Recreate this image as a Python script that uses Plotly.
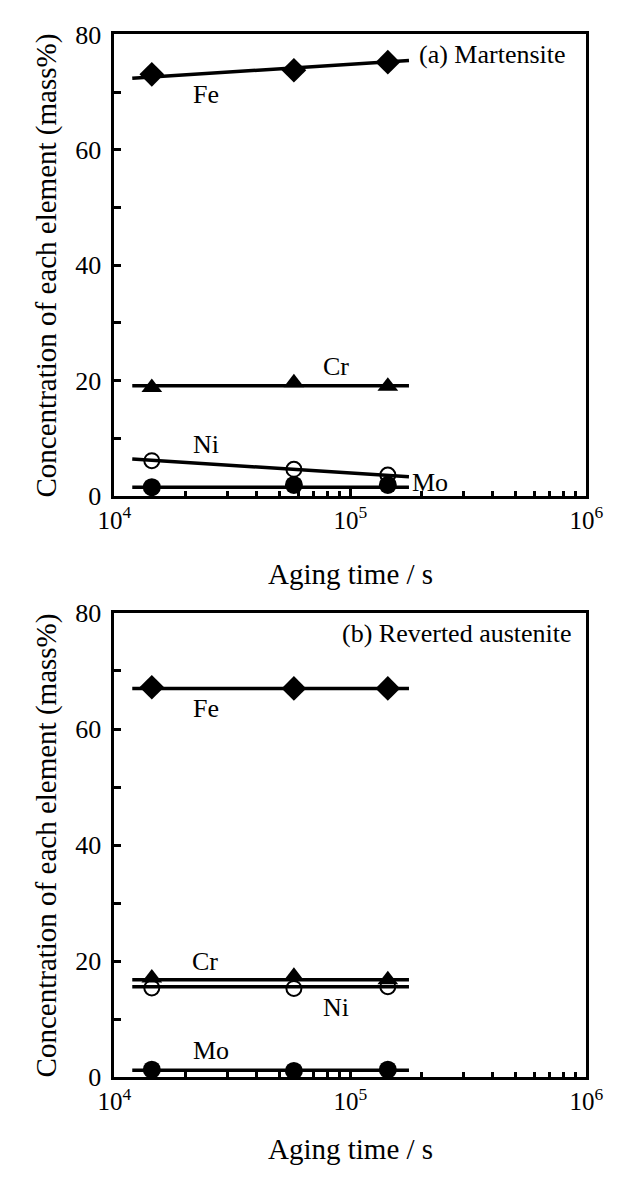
import plotly.graph_objects as go

# ---- data ----
aging_time = [14400, 57600, 144000]
line_x = [11900, 177000]

# (a) Martensite
a_fe = [73.1, 73.8, 75.2]
a_cr = [18.8, 19.6, 19.0]
a_ni = [6.1, 4.6, 3.6]
a_mo = [1.5, 1.9, 1.9]
a_fe_line = [72.4, 75.5]
a_cr_line = [19.1, 19.1]
a_ni_line = [6.4, 3.3]
a_mo_line = [1.5, 1.5]

# (b) Reverted austenite
b_fe = [67.2, 67.0, 67.0]
b_cr = [17.1, 17.4, 16.8]
b_ni = [15.4, 15.3, 15.6]
b_mo = [1.3, 1.1, 1.3]
b_fe_line = [67.0, 67.0]
b_cr_line = [16.8, 16.8]
b_ni_line = [15.6, 15.6]
b_mo_line = [1.2, 1.2]

x_tickvals = [1e4, 1e5, 1e6]
x_ticktext = ["10<sup>4</sup>", "10<sup>5</sup>", "10<sup>6</sup>"]
y_tickvals = [0, 20, 40, 60, 80]
y_ticktext = ["0", "20", "40", "60", "80"]

FONT = "Liberation Serif, Times New Roman, serif"
W, H = 629, 1182

fig = go.Figure()

def add_panel(xa, ya, lines, pts):
    for ly in lines:
        fig.add_trace(go.Scatter(x=line_x, y=ly, mode="lines",
                                 line=dict(color="black", width=3.5),
                                 xaxis=xa, yaxis=ya, showlegend=False))
    for vals, sym, size, lw in pts:
        fig.add_trace(go.Scatter(x=aging_time, y=vals, mode="markers",
                                 marker=dict(symbol=sym, size=size, color="black",
                                             line=dict(color="black", width=lw)),
                                 xaxis=xa, yaxis=ya, showlegend=False))

add_panel("x", "y",
          [a_fe_line, a_cr_line, a_ni_line, a_mo_line],
          [(a_fe, "diamond", 19, 0), (a_cr, "triangle-up", 18, 0),
           (a_ni, "circle-open", 15, 2), (a_mo, "circle", 18, 0)])
add_panel("x2", "y2",
          [b_fe_line, b_cr_line, b_ni_line, b_mo_line],
          [(b_fe, "diamond", 19, 0), (b_cr, "triangle-up", 18, 0),
           (b_ni, "circle-open", 15, 2), (b_mo, "circle", 18, 0)])

minor_vals = [k * 10 ** e for e in (4, 5) for k in range(2, 10)]

xdom = [103 / W, 602 / W]
ydom_a = [1 - 494 / H, 1 - 21 / H]
ydom_b = [1 - 1090 / H, 1 - 614 / H]

xtickf = dict(family=FONT, size=25, color="black")
ytickf = dict(family=FONT, size=26, color="black")
xcommon = dict(type="log", range=[4, 6], tickmode="array", tickvals=x_tickvals,
               ticktext=x_ticktext, ticks="inside", ticklen=7, tickwidth=2.5,
               tickcolor="black", showline=True, linecolor="black", linewidth=3,
               mirror=True, showgrid=False, zeroline=False, tickfont=xtickf,
               minor=dict(tickvals=minor_vals, ticks="inside", ticklen=5,
                          tickwidth=2.5, tickcolor="black", showgrid=False),
               domain=xdom)
ycommon = dict(range=[0, 80], tickmode="array", tickvals=y_tickvals,
               ticktext=y_ticktext, ticks="inside", ticklen=7, tickwidth=2.5,
               tickcolor="black", showline=True, linecolor="black", linewidth=3,
               mirror=True, showgrid=False, zeroline=False, tickfont=ytickf,
               ticklabelstandoff=5,
               minor=dict(tickvals=[10, 30, 50, 70], ticks="inside", ticklen=7,
                          tickwidth=2.5, tickcolor="black", showgrid=False))

fig.update_layout(
    width=W, height=H, margin=dict(l=0, r=0, t=0, b=0),
    plot_bgcolor="white", paper_bgcolor="white",
    xaxis=dict(xcommon, anchor="y"),
    yaxis=dict(ycommon, domain=ydom_a, anchor="x"),
    xaxis2=dict(xcommon, anchor="y2"),
    yaxis2=dict(ycommon, domain=ydom_b, anchor="x2"),
)

tf = dict(family=FONT, size=26, color="black")
C = dict(showarrow=False, xanchor="center", yanchor="middle")
ann = []
# panel a labels
ann += [
    dict(C, x=5.601, y=76.5, xref="x", yref="y", text="(a) Martensite", font=tf),
    dict(C, x=4.389, y=69.6, xref="x", yref="y", text="Fe", font=tf),
    dict(C, x=4.938, y=22.4, xref="x", yref="y", text="Cr", font=tf),
    dict(C, x=4.389, y=8.85, xref="x", yref="y", text="Ni", font=tf),
    dict(C, x=5.254, y=2.25, xref="x", yref="y", text="Mo", font=tf, xanchor="left"),
]
# panel b labels
ann += [
    dict(C, x=5.453, y=76.5, xref="x2", yref="y2", text="(b) Reverted austenite", font=tf),
    dict(C, x=4.389, y=63.6, xref="x2", yref="y2", text="Fe", font=tf),
    dict(C, x=4.385, y=19.9, xref="x2", yref="y2", text="Cr", font=tf),
    dict(C, x=4.938, y=12.0, xref="x2", yref="y2", text="Ni", font=tf),
    dict(C, x=4.409, y=4.6, xref="x2", yref="y2", text="Mo", font=tf),
]
# axis titles
titf = dict(family=FONT, size=29, color="black")
ytitle = "Concentration of each element (mass%)"
ann += [
    dict(C, x=0.5, y=1 - 574 / H, xref="x domain", yref="paper", text="Aging time / s", font=titf),
    dict(C, x=0.5, y=1 - 1164 / H, xref="x2 domain", yref="paper", text="Aging time / s", font=titf),
    dict(C, x=31 / W, y=0.5, xref="paper", yref="y domain", text=ytitle, textangle=-90, font=titf),
    dict(C, x=31 / W, y=0.5, xref="paper", yref="y2 domain", text=ytitle, textangle=-90, font=titf),
]
fig.update_layout(annotations=ann)

fig.write_html("out.html")
